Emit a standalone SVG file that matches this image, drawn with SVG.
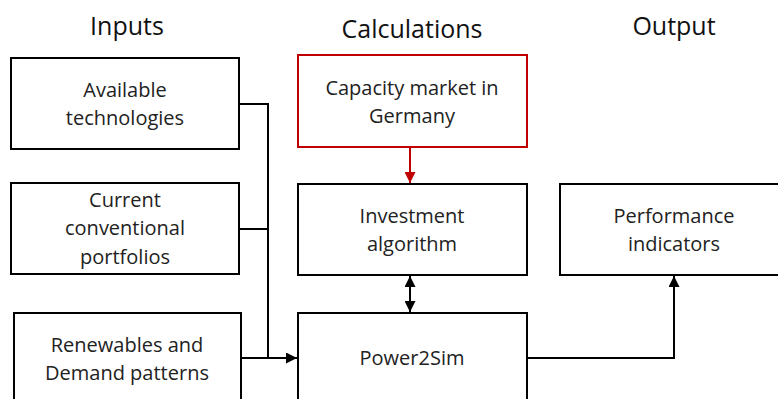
<svg xmlns="http://www.w3.org/2000/svg" width="778" height="399" viewBox="0 0 778 399">
<defs>
<style>
.box{fill:#fff;stroke:#000;stroke-width:2}
.red{fill:#fff;stroke:#c00000;stroke-width:2}
.t{font-family:"Open Sans","Liberation Sans",sans-serif;font-size:20px;fill:#222;text-anchor:middle}
.h{font-family:"Open Sans","Liberation Sans",sans-serif;font-size:25px;fill:#111;text-anchor:middle}
.c{fill:none;stroke:#000;stroke-width:2}
.cr{fill:none;stroke:#c00000;stroke-width:2}
</style>
<marker id="ah" viewBox="0 0 10 10" refX="10" refY="5" markerWidth="5.5" markerHeight="5.5" orient="auto-start-reverse"><path d="M0,0L10,5L0,10z" fill="#000"/></marker>
<marker id="ahr" viewBox="0 0 10 10" refX="10" refY="5" markerWidth="5.5" markerHeight="5.5" orient="auto"><path d="M0,0L10,5L0,10z" fill="#c00000"/></marker>
</defs>
<text class="h" x="127" y="35">Inputs</text>
<text class="h" x="412" y="38">Calculations</text>
<text class="h" x="674" y="35">Output</text>
<g id="connectors">
<path class="c" d="M239,104H268V358H241M239,229H268M268,358H297" marker-end="url(#ah)"/>
<path class="cr" d="M410,147V183" marker-end="url(#ahr)"/>
<path class="c" d="M410,276V312" marker-start="url(#ah)" marker-end="url(#ah)"/>
<path class="c" d="M527,358H674V276" marker-end="url(#ah)"/>
</g>
<g id="available"><rect class="box" x="11" y="58" width="228" height="91"/><text class="t" x="125" y="97">Available</text><text class="t" x="125" y="125">technologies</text></g>
<g id="current"><rect class="box" x="11" y="183" width="228" height="91"/><text class="t" x="125" y="207">Current</text><text class="t" x="125" y="235">conventional</text><text class="t" x="125" y="264">portfolios</text></g>
<g id="renewables"><rect class="box" x="14" y="313" width="227" height="100"/><text class="t" x="127" y="352">Renewables and</text><text class="t" x="127" y="380">Demand patterns</text></g>
<g id="capacity"><rect class="red" x="298" y="55" width="229" height="92"/><text class="t" x="412" y="95">Capacity market in</text><text class="t" x="412" y="123">Germany</text></g>
<g id="investment"><rect class="box" x="298" y="184" width="229" height="91"/><text class="t" x="412" y="223">Investment</text><text class="t" x="412" y="251">algorithm</text></g>
<g id="power2sim"><rect class="box" x="298" y="313" width="229" height="100"/><text class="t" x="412" y="365">Power2Sim</text></g>
<g id="performance"><rect class="box" x="560" y="184" width="230" height="91"/><text class="t" x="674" y="223">Performance</text><text class="t" x="674" y="251">indicators</text></g>
</svg>
